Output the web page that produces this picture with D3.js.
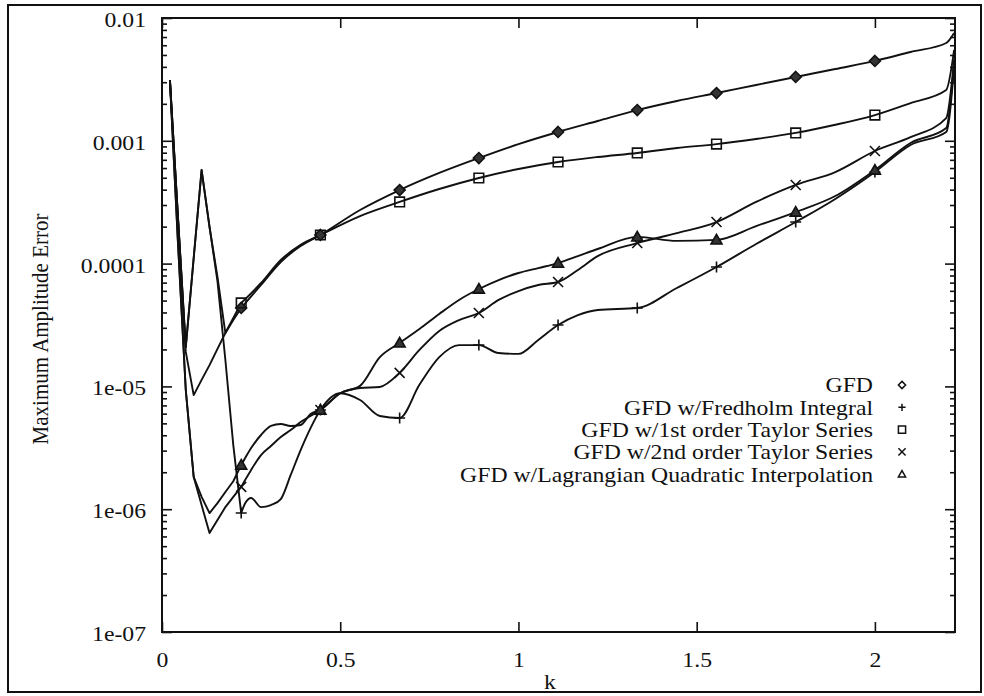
<!DOCTYPE html>
<html><head><meta charset="utf-8">
<script src="https://cdn.jsdelivr.net/npm/d3@7"></script>
<style>
body{margin:0;background:#fff}
svg{display:block}
text{font-family:"Liberation Serif","Times New Roman",Times,serif;fill:#111}
</style>
</head><body>
<svg id="c" width="984" height="696"></svg>
<script>
// ---------- data ----------
const kUpper = [0.0222,0.0444,0.0667,0.0889,0.1111,0.1333,0.1556,0.1778,0.2,0.2222,0.2778,0.3333,0.3889,0.4444,0.5556,0.6667,0.7778,0.8889,1.0,1.1111,1.2222,1.3333,1.4444,1.5556,1.6667,1.7778,1.8889,2.0,2.1,2.2,2.2222];
const gfd = [3.13e-3,2.49e-4,2.09e-5,1.11e-4,5.78e-4,1.99e-4,7.78e-5,2.72e-5,3.47e-5,4.35e-5,6.7e-5,1.03e-4,1.39e-4,1.71e-4,2.73e-4,3.97e-4,5.47e-4,7.24e-4,9.4e-4,1.18e-3,1.45e-3,1.78e-3,2.11e-3,2.45e-3,2.85e-3,3.31e-3,3.84e-3,4.47e-3,5.29e-3,6.26e-3,7.55e-3];
const taylor1 = [3.13e-3,2.49e-4,1.91e-5,8.5e-6,1.13e-5,1.49e-5,2.02e-5,2.72e-5,3.61e-5,4.78e-5,6.95e-5,1.07e-4,1.42e-4,1.71e-4,2.44e-4,3.18e-4,4.05e-4,4.98e-4,5.89e-4,6.72e-4,7.38e-4,7.96e-4,8.73e-4,9.4e-4,1.035e-3,1.16e-3,1.35e-3,1.62e-3,2.03e-3,2.59e-3,5.49e-3];

const kLower = [0.0222,0.0444,0.0667,0.0889,0.1111,0.1333,0.1556,0.1778,0.2,0.2222,0.2333,0.25,0.2778,0.3056,0.3333,0.3611,0.3889,0.4167,0.4444,0.5,0.5556,0.6111,0.6667,0.7222,0.7778,0.8333,0.8889,0.9444,1.0,1.0556,1.1111,1.1667,1.2222,1.3333,1.4444,1.5556,1.6667,1.7778,1.8889,2.0,2.1,2.2,2.2222];
const fredholm = [3.13e-3,2.49e-4,2.09e-5,1.11e-4,5.78e-4,1.99e-4,7.21e-5,1.64e-5,3.33e-6,9.3e-7,1.12e-6,1.235e-6,1.04e-6,1.08e-6,1.21e-6,1.9e-6,3.03e-6,4.58e-6,6.43e-6,8.8e-6,7.75e-6,5.74e-6,5.53e-6,1.03e-5,1.73e-5,2.17e-5,2.17e-5,1.87e-5,1.84e-5,2.39e-5,3.16e-5,3.81e-5,4.19e-5,4.35e-5,6.33e-5,9.38e-5,1.445e-4,2.18e-4,3.36e-4,5.57e-4,9.25e-4,1.18e-3,4.0e-3];
const taylor2 = [3.13e-3,1.56e-4,9.35e-6,1.83e-6,1.08e-6,6.4e-7,8.17e-7,1.04e-6,1.26e-6,1.52e-6,1.73e-6,2.09e-6,2.76e-6,3.27e-6,3.87e-6,4.41e-6,5.13e-6,5.74e-6,6.43e-6,8.8e-6,9.7e-6,9.9e-6,1.29e-5,1.98e-5,2.83e-5,3.47e-5,3.96e-5,5.06e-5,5.98e-5,6.7e-5,7.08e-5,8.87e-5,1.15e-4,1.47e-4,1.77e-4,2.18e-4,3.18e-4,4.37e-4,5.57e-4,8.26e-4,1.07e-3,1.53e-3,4.6e-3];
const lagrange = [3.13e-3,1.56e-4,9.35e-6,1.83e-6,1.26e-6,9.3e-7,1.12e-6,1.38e-6,1.69e-6,2.29e-6,2.61e-6,3.15e-6,4.02e-6,4.76e-6,4.94e-6,4.76e-6,4.85e-6,5.96e-6,6.43e-6,8.8e-6,1.01e-5,1.73e-5,2.26e-5,2.93e-5,3.89e-5,5.06e-5,6.21e-5,7.35e-5,8.38e-5,9.2e-5,1.01e-4,1.15e-4,1.315e-4,1.65e-4,1.53e-4,1.56e-4,2.02e-4,2.63e-4,3.55e-4,5.78e-4,9.6e-4,1.27e-3,4.3e-3];

const markerK = [0.2222,0.4444,0.6667,0.8889,1.1111,1.3333,1.5556,1.7778,2.0];
const seriesNames = ["GFD","GFD w/Fredholm Integral","GFD w/1st order Taylor Series","GFD w/2nd order Taylor Series","GFD w/Lagrangian Quadratic Interpolation"];
const seriesSymbols = ["diamond","plus","square","cross","triangle"];
const xTicks = [0,0.5,1,1.5,2];
const xTickLabels = ["0","0.5","1","1.5","2"];
const yTicks = [1e-7,1e-6,1e-5,1e-4,1e-3,1e-2];
const yTickLabels = ["1e-07","1e-06","1e-05","0.0001","0.001","0.01"];
const xLabel = "k", yLabel = "Maximum Amplitude Error";

// ---------- layout ----------
const L = 162, R = 955, T = 18, B = 632;
const SX = 1.13, FS = 21, INK = "#111";
const svg = d3.select("#c");

svg.append("rect").attr("x",8).attr("y",5).attr("width",973).attr("height",687)
  .attr("fill","none").attr("stroke",INK).attr("stroke-width",2);

const x = d3.scaleLinear().domain([0, 2.2247]).range([L, R]);
const y = d3.scaleLog().domain([1e-7, 1e-2]).range([B, T]);

const series = [
  {k:kUpper, v:gfd},
  {k:kLower, v:fredholm},
  {k:kUpper, v:taylor1},
  {k:kLower, v:taylor2},
  {k:kLower, v:lagrange}
];

const yMinor = [];
for (let e=-7;e<-2;e++) for (let m=2;m<=9;m++) yMinor.push(m*Math.pow(10,e));

function styleAxis(g){
  g.select(".domain").remove();
  g.selectAll("line").attr("stroke",INK).attr("stroke-width",1.6);
  g.attr("font-size",FS).attr("font-family",null);
}
// bottom
const gB = svg.append("g").attr("transform",`translate(0,${B})`)
  .call(d3.axisBottom(x).tickValues(xTicks).tickFormat((d,i)=>xTickLabels[i]).tickSizeInner(-10).tickSizeOuter(0).tickPadding(20));
styleAxis(gB);
gB.selectAll("text").attr("fill",INK).attr("transform",`scale(${SX},1)`);
// top
const gT = svg.append("g").attr("transform",`translate(0,${T})`)
  .call(d3.axisTop(x).tickValues(xTicks).tickFormat("").tickSizeInner(-10).tickSizeOuter(0));
styleAxis(gT);
// left major
const padL = 16;
const gL = svg.append("g").attr("transform",`translate(${L},0)`)
  .call(d3.axisLeft(y).tickValues(yTicks).tickFormat((d,i)=>yTickLabels[i]).tickSizeInner(-10).tickSizeOuter(0).tickPadding(padL));
styleAxis(gL);
gL.selectAll("text").attr("fill",INK).attr("x",-padL/SX).attr("dy","0.4em").attr("transform",`scale(${SX},1)`);
const gLm = svg.append("g").attr("transform",`translate(${L},0)`)
  .call(d3.axisLeft(y).tickValues(yMinor).tickFormat("").tickSizeInner(-5).tickSizeOuter(0));
styleAxis(gLm);
// right
const gR = svg.append("g").attr("transform",`translate(${R},0)`)
  .call(d3.axisRight(y).tickValues(yTicks).tickFormat("").tickSizeInner(-10).tickSizeOuter(0));
styleAxis(gR);
const gRm = svg.append("g").attr("transform",`translate(${R},0)`)
  .call(d3.axisRight(y).tickValues(yMinor).tickFormat("").tickSizeInner(-5).tickSizeOuter(0));
styleAxis(gRm);

// frame
svg.append("rect").attr("x",L).attr("y",T).attr("width",R-L).attr("height",B-T)
  .attr("fill","none").attr("stroke",INK).attr("stroke-width",2);

// lines: coarse straight segments at small k, smooth after the first marker
const lineLin = d3.line().x(d=>x(d[0])).y(d=>y(d[1])).curve(d3.curveLinear);
const lineSm = d3.line().x(d=>x(d[0])).y(d=>y(d[1])).curve(d3.curveMonotoneX);
const cutK = 0.2222;
series.forEach(s=>{
  const pts = s.k.map((k,i)=>[k,s.v[i]]);
  const a = pts.filter(p=>p[0] <= cutK + 1e-6);
  const b = pts.filter(p=>p[0] >= cutK - 1e-6);
  [lineLin(a), lineSm(b)].forEach(d=>{
    svg.append("path").attr("d",d).attr("fill","none")
      .attr("stroke",INK).attr("stroke-width",1.9).attr("stroke-linejoin","round");
  });
});

// symbols
function sym(type,h){
  switch(type){
    case "diamond": return `M0,${-h}L${h},0L0,${h}L${-h},0Z`;
    case "plus": return `M${-h},0H${h}M0,${-h}V${h}`;
    case "square": return `M${-h},${-h}H${h}V${h}H${-h}Z`;
    case "cross": return `M${-h},${-h}L${h},${h}M${-h},${h}L${h},${-h}`;
    case "triangle": return `M0,${-h}L${h},${h*0.75}L${-h},${h*0.75}Z`;
  }
}
const plotSize = {diamond:5.5,plus:5.5,square:4.8,cross:5,triangle:5.5};
series.forEach((s,si)=>{
  const t = seriesSymbols[si];
  markerK.forEach(mk=>{
    const i = s.k.findIndex(k=>Math.abs(k-mk)<1e-3);
    if(i<0) return;
    svg.append("path").attr("d",sym(t,plotSize[t]))
      .attr("transform",`translate(${x(s.k[i])},${y(s.v[i])})`)
      .attr("fill",(t==="diamond"||t==="triangle")?"#333":"none")
      .attr("stroke",INK).attr("stroke-width",1.6);
  });
});

// legend
const legY0 = 385, legDY = 22.3, legTextX = 873, legSymX = 902;
seriesNames.forEach((name,i)=>{
  const cy = legY0 + i*legDY;
  svg.append("text").attr("transform",`translate(${legTextX},${cy}) scale(${SX},1)`)
    .attr("text-anchor","end").attr("dy","0.35em").attr("font-size",FS).text(name);
  svg.append("path").attr("d",sym(seriesSymbols[i],3.6))
    .attr("transform",`translate(${legSymX},${cy})`)
    .attr("fill","none").attr("stroke",INK).attr("stroke-width",1.5);
});

// axis labels
svg.append("text").attr("transform",`translate(550,689) scale(${SX},1)`)
  .attr("text-anchor","middle").attr("font-size",FS).text(xLabel);
svg.append("text").attr("transform",`translate(40,${(T+B)/2+4}) scale(${SX},1) rotate(-90)`)
  .attr("text-anchor","middle").attr("dy","0.35em").attr("font-size",FS).text(yLabel);
</script>
</body></html>
